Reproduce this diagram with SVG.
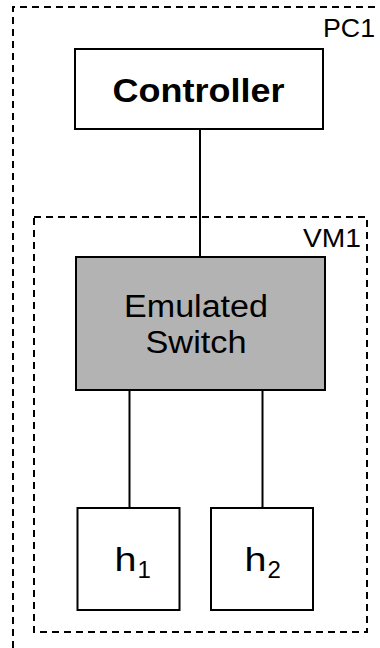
<svg xmlns="http://www.w3.org/2000/svg" width="380" height="648" viewBox="0 0 380 648">
<style>
.dash{fill:none;stroke:#000;stroke-width:2;stroke-dasharray:7,5}
.box{fill:#fff;stroke:#000;stroke-width:2}
.sw{fill:#b3b3b3;stroke:#000;stroke-width:2}
.ln{stroke:#000;stroke-width:2;fill:none}
text{font-family:"Liberation Sans",Arial,Helvetica,sans-serif;fill:#000}
</style>
<rect x="0" y="0" width="380" height="648" fill="#fff"/>
<g id="PC1">
<path class="dash" d="M13,660 V7 H390"/>
<text x="323" y="36.5" font-size="26" textLength="52" lengthAdjust="spacingAndGlyphs">PC1</text>
</g>
<g id="VM1">
<rect class="dash" x="34" y="217" width="333" height="415"/>
<text x="303" y="246.5" font-size="25" textLength="58" lengthAdjust="spacingAndGlyphs">VM1</text>
</g>
<g id="connectors">
<line class="ln" x1="200" y1="129" x2="200" y2="257"/>
<line class="ln" x1="129.5" y1="390" x2="129.5" y2="508"/>
<line class="ln" x1="262.5" y1="390" x2="262.5" y2="508"/>
</g>
<g id="controller">
<rect class="box" x="75" y="49" width="248" height="80"/>
<text x="112.5" y="101.5" font-size="33" font-weight="bold" textLength="172" lengthAdjust="spacingAndGlyphs">Controller</text>
</g>
<g id="switch">
<rect class="sw" x="76" y="257" width="249" height="133"/>
<text x="124" y="317" font-size="31" textLength="144" lengthAdjust="spacingAndGlyphs">Emulated</text>
<text x="145.5" y="352.5" font-size="31" textLength="101" lengthAdjust="spacingAndGlyphs">Switch</text>
</g>
<g id="h1">
<rect class="box" x="77.5" y="508" width="102" height="102"/>
<text x="114.5" y="571" font-size="33" textLength="22" lengthAdjust="spacingAndGlyphs">h</text>
<text x="137.5" y="577.5" font-size="24">1</text>
</g>
<g id="h2">
<rect class="box" x="211" y="508" width="102" height="102"/>
<text x="244.5" y="571" font-size="33" textLength="22" lengthAdjust="spacingAndGlyphs">h</text>
<text x="267.5" y="577.5" font-size="24">2</text>
</g>
</svg>
